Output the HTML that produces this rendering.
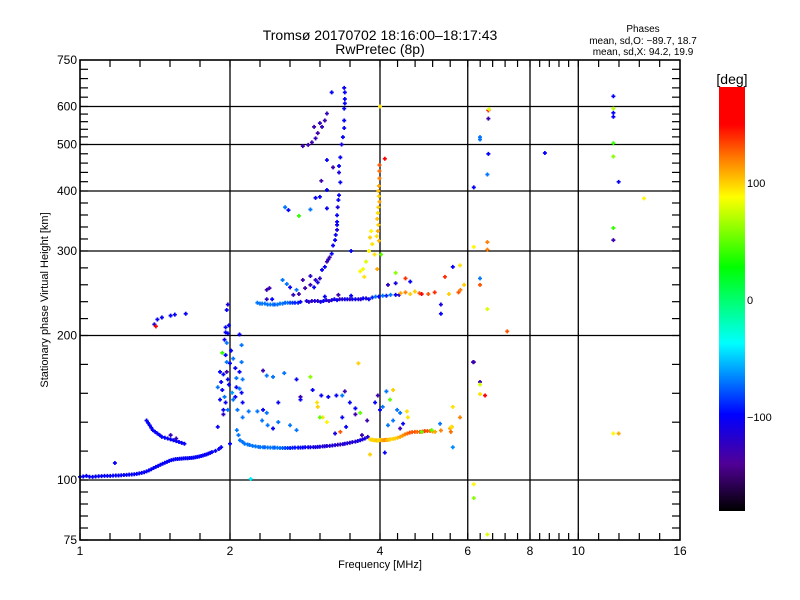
<!DOCTYPE html>
<html><head><meta charset="utf-8"><style>
body{margin:0;background:#fff}
svg{display:block}
text{font-family:"Liberation Sans",sans-serif;fill:#000}
</style></head><body>
<svg id="chart" width="800" height="600" viewBox="0 0 800 600" xmlns="http://www.w3.org/2000/svg">
<rect x="0" y="0" width="800" height="600" fill="#fff"/>
<text x="380" y="40" font-size="14" text-anchor="middle">Tromsø 20170702 18:16:00–18:17:43</text>
<text x="380" y="54" font-size="14" text-anchor="middle">RwPretec (8p)</text>
<text x="643" y="32" font-size="10" text-anchor="middle">Phases</text>
<text x="643" y="44" font-size="10" text-anchor="middle">mean, sd,O: −89.7, 18.7</text>
<text x="643" y="55" font-size="10" text-anchor="middle">mean, sd,X:  94.2, 19.9</text>
<text x="380" y="568" font-size="11" text-anchor="middle">Frequency [MHz]</text>
<text transform="translate(48,300) rotate(-90)" font-size="11" text-anchor="middle">Stationary phase Virtual Height [km]</text>
<g id="grid"></g>
<g id="marks"></g>
<g id="axes"></g>
<g id="cbar"></g>
</svg>
<script>
// ---- data ----
const xTickLabels = [1, 2, 4, 6, 8, 10, 16];
const yTickLabels = [75, 100, 200, 300, 400, 500, 600, 750];
const hGrid = [100, 200, 300, 400, 500, 600];
const vGrid = [2, 4, 6, 8, 10];
const cbarLabels = [100, 0, -100];

// [frequency MHz, height km, phase deg]
const traceE = [[1.0,101.5,-100],[1.015,101.7,-100],[1.03,102,-100],[1.045,101.6,-100],[1.06,101.5,-100],[1.075,101.7,-100],[1.09,101.8,-100],[1.105,101.9,-100],[1.12,102,-100],[1.135,102,-100],[1.15,102,-100],[1.165,102.1,-100],[1.18,102.2,-100],[1.195,102.2,-100],[1.21,102.3,-100],[1.225,102.4,-100],[1.24,102.5,-100],[1.255,102.6,-100],[1.27,102.7,-100],[1.285,102.8,-100],[1.30,103,-100],[1.315,103.2,-100],[1.33,103.5,-100],[1.345,103.8,-100],[1.36,104.2,-100],[1.375,104.7,-100],[1.39,105.3,-100],[1.405,105.9,-100],[1.42,106.5,-100],[1.435,107,-100],[1.45,107.6,-100],[1.465,108.1,-100],[1.48,108.6,-100],[1.495,109.1,-100],[1.51,109.6,-100],[1.525,110,-100],[1.54,110.3,-100],[1.555,110.5,-100],[1.57,110.6,-100],[1.585,110.7,-100],[1.60,110.8,-100],[1.615,110.9,-100],[1.63,111,-100],[1.645,111,-100],[1.66,111.1,-100],[1.675,111.2,-100],[1.69,111.3,-100],[1.705,111.5,-100],[1.72,111.7,-100],[1.735,111.9,-100],[1.75,112.2,-100],[1.765,112.5,-100],[1.78,112.8,-100],[1.795,113.1,-100],[1.81,113.5,-105],[1.825,113.9,-100],[1.84,114.3,-100],[1.87,115,-100],[1.90,116,-100],[1.92,117,-100],[1.175,108.5,-100]];
const traceEBranch = [[1.36,133,-100],[1.37,131.5,-100],[1.38,130,-100],[1.39,128.5,-100],[1.40,127,-100],[1.415,126,-100],[1.43,125,-100],[1.445,124,-100],[1.46,123,-100],[1.48,122.5,-100],[1.50,122,-100],[1.52,121.5,-100],[1.54,121,-100],[1.56,120.5,-100],[1.58,120,-100],[1.60,119.5,-100],[1.62,119,-100],[1.52,124,-125],[1.56,122,-125]];
const traceLowSpread = [[1.41,211,-110],[1.42,209,170],[1.43,216,-100],[1.46,218,-100],[1.52,220,-100],[1.55,221,-100],[1.63,222,-100]];
const traceF1 = [[2.064,127,-70],[2.08,124,-70],[2.094,121,-70],[2.12,120,-70],[2.14,119,-70],[2.17,118.6,-70],[2.19,118.3,-70],[2.22,117.8,-70],[2.25,117.5,-70],[2.28,117.2,-70],[2.3,117.1,-70],[2.33,117,-70],[2.35,117,-75],[2.38,116.9,-70],[2.41,116.8,-70],[2.44,116.8,-70],[2.46,116.8,-75],[2.49,116.7,-70],[2.52,116.6,-70],[2.55,116.6,-75],[2.58,116.6,-80],[2.61,116.6,-85],[2.64,116.6,-90],[2.67,116.7,-90],[2.7,116.8,-95],[2.74,116.8,-95],[2.77,116.8,-95],[2.80,116.9,-100],[2.83,117,-100],[2.87,117,-105],[2.9,117,-105],[2.94,117.1,-110],[2.97,117.1,-110],[3.0,117.2,-110],[3.03,117.3,-110],[3.07,117.5,-115],[3.1,117.6,-115],[3.13,117.7,-115],[3.17,117.8,-115],[3.21,118,-115],[3.25,118.2,-115],[3.29,118.4,-120],[3.33,118.6,-120],[3.37,118.8,-115],[3.4,119,-115],[3.44,119.3,-115],[3.48,119.6,-115],[3.52,119.9,-115],[3.57,120.2,-115],[3.61,120.6,-110],[3.65,121,-110],[3.69,121.5,-110],[3.73,122,-110],[3.78,123,-120]];
const traceF1X = [[3.82,121.5,95],[3.85,121.3,100],[3.87,121.2,100],[3.89,121,95],[3.91,121,100],[3.94,120.9,105],[3.96,120.8,100],[3.98,121,95],[4.0,121.2,100],[4.03,121.1,105],[4.05,121,110],[4.08,121.1,115],[4.1,121.2,115],[4.13,121.2,110],[4.15,121.2,105],[4.18,121.4,100],[4.2,121.6,100],[4.25,121.8,100],[4.29,122,100],[4.34,122.5,105],[4.39,123,110],[4.44,123.7,115],[4.49,124.5,120],[4.54,125,125],[4.59,125.5,130],[4.64,125.8,130],[4.7,126,130],[4.75,126,125],[4.81,126,130],[4.87,126.2,130],[4.92,126.4,135],[4.98,126.5,130],[5.04,126.5,125],[5.1,126.2,115],[5.16,126,110],[5.3,126.8,120],[5.53,128,110],[5.58,129,100],[5.55,126,125]];
const traceCusp = [[1.96,208,-100],[1.96,203,-100],[1.98,202,-100],[1.95,196,-100],[1.97,193,-70],[1.93,184,40],[1.96,182,-100],[1.97,176,-70],[2.0,175,-100],[1.91,168,-100],[1.94,166,-100],[1.97,168,-130],[1.98,162,-100],[1.89,156,-70],[1.93,154,-100],[1.95,149,-70],[1.91,147,-100],[1.94,140,-100],[1.94,137,-120],[1.98,140,-70],[1.89,129,-100],[2.0,119,-100],[2.03,179,-70],[2.05,171,-100],[2.06,163,-70],[2.06,156,-100],[2.05,149,-100],[2.03,147,-70],[2.09,168,-100],[2.09,155,-70],[2.11,152,-100],[2.12,145,-100],[2.12,135,-70],[2.11,191,-70],[2.09,201,-100],[2.11,176,-70],[2.12,162,-70],[1.97,226,-100],[1.98,232,-110],[1.99,210,-100],[2.01,186,-100],[1.99,158,-100],[2.02,152,-60],[2.07,140,-70],[1.96,145,-100],[1.92,160,-100]];
const traceF1Spread = [[2.18,139,-70],[2.27,139,-70],[2.33,140,-100],[2.37,138,-70],[2.32,133,-70],[2.38,130,-70],[2.44,128,-100],[2.5,132,-70],[2.64,130,-70],[2.72,127,-70],[2.33,169,-130],[2.37,165,-70],[2.44,164,-70],[2.57,167,-70],[2.72,162,-100],[2.9,164,60],[2.77,149,-130],[2.77,147,-100],[2.93,154,-100],[2.99,145,95],[3.0,142,100],[3.07,135,95],[3.03,135,50],[3.13,132,90],[3.15,149,-100],[3.27,150,-100],[3.36,150,-70],[3.4,153,-130],[3.48,145,-100],[3.57,141,-100],[3.57,137,-130],[3.36,135,-100],[3.33,126,130],[3.25,125,-110],[3.42,129,-100],[3.65,138,50],[3.77,133,-130],[3.68,124,-130],[3.91,145,-100],[3.96,150,-130],[4.0,140,-100],[4.05,142,-70],[4.12,153,-70],[4.19,147,50],[4.25,154,100],[4.33,140,-70],[4.39,138,-70],[4.25,133,-70],[4.53,139,95],[4.55,135,95],[4.39,128,-130],[4.09,114,-100],[3.82,113,100],[5.56,129,95],[5.6,142,95],[5.79,135,120],[5.6,117,-65],[5.28,131,-70],[4.85,126,50],[5.08,127,50],[6.15,176,-130],[2.2,100.5,-40],[3.62,175,100],[3.05,150,-100],[2.5,145,-100],[4.15,130,-70],[4.45,131,-100]];
const traceF2Base = [[2.27,234,-70],[2.297,233,-70],[2.32,233,-70],[2.35,233,-70],[2.38,232,-70],[2.41,232,-70],[2.44,232,-70],[2.46,232,-75],[2.49,232,-70],[2.52,233,-70],[2.55,233,-70],[2.58,234,-75],[2.61,234,-70],[2.64,234,-80],[2.67,234,-85],[2.70,234,-90],[2.74,234,-90],[2.77,235,-100],[2.85,236,-110],[2.88,235,-120],[2.92,236,-120],[2.96,236,-110],[3.0,236,-120],[3.04,235,-110],[3.08,236,-100],[3.12,237,-110],[3.16,236,-125],[3.2,237,-110],[3.24,238,-110],[3.28,237,-100],[3.32,238,-125],[3.36,238,-110],[3.4,238,-115],[3.44,238,-100],[3.48,238,-125],[3.52,238,-110],[3.57,238,-100],[3.62,238,-110],[3.66,238,-120],[3.7,239,-100],[3.75,239,-110],[3.8,238,-100],[3.86,240,-90],[3.92,241,-70],[3.98,241,-100],[4.05,242,-70],[4.12,242,-90],[4.2,243,-70],[4.3,243,-100],[4.37,243,-120],[2.37,238,-120],[2.43,238,-100],[3.1,241,-100],[3.3,243,-130],[3.5,242,-100]];
const traceF2Rise = [[2.55,261,-70],[2.60,256,-70],[2.64,252,-100],[2.72,249,-70],[2.83,251,-130],[2.9,255,-125],[2.97,261,-120],[3.03,263,-120],[3.06,274,-100],[3.1,278,-100],[3.13,285,-130],[3.15,288,-120],[3.17,291,-130],[2.37,249,-130],[2.40,251,-130],[2.8,261,-130],[2.9,266,-120],[2.68,243,-125],[2.75,244,-130],[2.95,252,-100],[3.0,258,-110]];
const traceF2Column = [[3.2,296,-100],[3.22,308,-100],[3.25,316,-100],[3.26,324,-100],[3.28,332,-110],[3.28,340,-100],[3.28,345,-100],[3.28,356,-100],[3.29,370,-110],[3.3,383,-100],[3.31,392,-100],[3.33,417,-100],[3.31,437,-110],[3.31,451,-100],[3.33,470,-100],[3.39,541,-100],[3.39,561,-100],[3.39,594,-100],[3.4,609,-100],[3.4,622,-100],[3.4,642,-100],[3.39,656,-100],[3.2,642,-100],[3.35,500,-110],[3.37,518,-100]];
const traceF2Upper = [[2.8,496,-130],[2.87,499,-130],[2.92,505,-130],[2.97,515,-125],[3.0,528,-130],[3.06,544,-125],[3.1,561,-130],[3.13,580,-125],[2.95,544,-130],[3.03,554,-125],[2.97,387,-100],[3.03,389,-100],[3.13,402,-100],[2.58,370,-70],[2.62,365,-100],[2.9,366,-70],[3.13,368,-100],[3.22,448,-130],[3.13,464,-100],[3.05,420,-130],[2.75,355,40],[3.5,300,-100]];
const traceXColumn = [[3.99,453,130],[3.99,440,125],[3.99,425,120],[3.98,410,110],[3.97,400,105],[3.98,390,100],[3.99,380,110],[3.97,370,100],[3.96,360,95],[3.95,350,105],[3.97,340,100],[3.96,330,110],[3.94,322,95],[3.98,315,105],[3.84,330,90],[3.82,320,100],[3.86,310,95],[3.8,300,90],[3.75,285,80],[3.7,275,85],[3.65,272,90],[3.72,265,95],[4.09,467,150],[4.0,600,95],[4.02,295,50],[3.9,295,95],[3.95,275,110]];
const traceXRight = [[4.4,245,110],[4.5,246,120],[4.6,244,100],[4.8,245,130],[4.85,244,150],[5.0,244,130],[5.15,246,140],[5.5,244,100],[5.75,246,130],[5.8,249,120],[5.9,255,100],[5.4,265,140],[4.5,263,140],[4.3,270,60],[4.15,255,-120],[4.3,257,-110],[4.6,259,-100],[5.6,278,-100],[5.3,222,-100],[5.3,232,-110],[5.79,280,95],[4.7,247,100]];
const traceHighFreq = [[6.6,589,150],[6.62,592,80],[6.6,566,-130],[6.35,518,-70],[6.35,512,-70],[6.6,478,-100],[6.57,433,-70],[6.17,407,-100],[6.57,313,120],[6.17,306,90],[6.57,302,120],[6.35,263,-70],[8.57,480,-100],[11.76,630,-100],[11.76,594,70],[11.76,582,-100],[11.76,571,-100],[11.76,503,40],[11.76,472,60],[12.05,418,-100],[13.55,386,90],[11.76,335,40],[11.76,316,-130],[6.35,255,130],[6.57,227,80],[7.2,204,130],[6.17,176,-130],[6.35,160,-130],[6.35,158,80],[6.35,151,95],[6.5,150,160],[11.76,125,90],[12.05,125,110],[6.17,98,90],[6.17,91.7,60],[6.57,77,80]];

// ---- scales ----
const X0 = 80, X1 = 680, Y0 = 60, Y1 = 540;
function xS(f){ return X0 + 150*Math.log2(f); }
function yS(h){ return 480 - 144.5*Math.log2(h/100); }
const CB_TOP = 87, CB_BOT = 511, CB_ZERO = 300, CB_PX = 1.17;
function cbY(p){ return CB_ZERO - CB_PX*p; }
const cStops = [[180,[255,0,0]],[150,[255,0,0]],[120,[255,128,0]],[88,[255,255,0]],[28,[0,255,0]],[-37,[0,255,255]],[-98,[0,0,255]],[-140,[80,0,150]],[-180,[0,0,0]]];
function phaseColor(p){
  p = Math.max(-180, Math.min(180, p));
  for (let i=0;i<cStops.length-1;i++){
    const a=cStops[i], b=cStops[i+1];
    if (p<=a[0] && p>=b[0]){
      const t=(a[0]-p)/(a[0]-b[0]);
      const c=a[1].map((v,k)=>Math.round(v+(b[1][k]-v)*t));
      return 'rgb('+c.join(',')+')';
    }
  }
  return '#000';
}
const NS='http://www.w3.org/2000/svg';
function mk(tag, attrs, parent){
  const e=document.createElementNS(NS,tag);
  for (const k in attrs) e.setAttribute(k, attrs[k]);
  parent.appendChild(e); return e;
}

// ---- grid ----
const grid=document.getElementById('grid');
hGrid.forEach(h=>{
  const l=mk('line',{x1:X0,x2:X1,y1:yS(h),y2:yS(h),stroke:'#000','stroke-width':1.3},grid);
  
  
});
vGrid.forEach(f=>{
  const l=mk('line',{x1:xS(f),x2:xS(f),y1:Y0,y2:Y1,stroke:'#000','stroke-width':1.3},grid);
  
  
});

// ---- marks ----
const marks=document.getElementById('marks');
const traces={'trace-e':traceE,'trace-e-branch':traceEBranch,'trace-low-spread':traceLowSpread,'trace-f1':traceF1,'trace-f1-x':traceF1X,'trace-cusp':traceCusp,'trace-f1-spread':traceF1Spread,'trace-f2-base':traceF2Base,'trace-f2-rise':traceF2Rise,'trace-f2-column':traceF2Column,'trace-f2-upper':traceF2Upper,'trace-x-column':traceXColumn,'trace-x-right':traceXRight,'trace-high-freq':traceHighFreq};
for (const name in traces){
  const g=mk('g',{},marks);
  
  
  traces[name].forEach(d=>{
    const x=xS(d[0]), y=yS(d[1]);
    const p=mk('path',{d:'M'+(x-2)+' '+y+'h4M'+x+' '+(y-2)+'v4',stroke:phaseColor(d[2]),'stroke-width':1.7,fill:'none'},g);
    
    
  });
}

// ---- axes ----
const axes=document.getElementById('axes');
const frame=mk('rect',{x:X0,y:Y0,width:X1-X0,height:Y1-Y0,fill:'none',stroke:'#000','stroke-width':1.6},axes);


function yPos(v){ return v===75 ? Y1 : (v===750 ? Y0 : yS(v)); }
for (let i=0;i<yTickLabels.length;i++){
  const v=yTickLabels[i], y=yPos(v);
  const t=mk('text',{x:X0-3,y:y+4,'font-size':12,'text-anchor':'end'},axes);
  t.textContent=v;
  
  
  if (i<yTickLabels.length-1){
    const y2=yPos(yTickLabels[i+1]);
    for (let k=0;k<5;k++){
      const yy=y+(y2-y)*k/5;
      const a=mk('line',{x1:X0,x2:X0+8,y1:yy,y2:yy,stroke:'#000','stroke-width':1.2},axes);
      
      
      const b=mk('line',{x1:X1-8,x2:X1,y1:yy,y2:yy,stroke:'#000','stroke-width':1.2},axes);
      
      
    }
  }
}
for (let i=0;i<xTickLabels.length;i++){
  const v=xTickLabels[i], x=xS(v);
  const t=mk('text',{x:x,y:Y1+15,'font-size':12,'text-anchor':'middle'},axes);
  t.textContent=v;
  
  
  if (i<xTickLabels.length-1){
    const x2=xS(xTickLabels[i+1]);
    for (let k=0;k<5;k++){
      const xx=x+(x2-x)*k/5;
      const a=mk('line',{x1:xx,x2:xx,y1:Y1,y2:Y1-7,stroke:'#000','stroke-width':1.2},axes);
      
      
      const b=mk('line',{x1:xx,x2:xx,y1:Y0,y2:Y0+7,stroke:'#000','stroke-width':1.2},axes);
      
      
    }
  }
}

// ---- colorbar ----
const cb=document.getElementById('cbar');
const defs=mk('defs',{},cb);
const lg=mk('linearGradient',{id:'cbgrad',x1:0,y1:0,x2:0,y2:1},defs);
cStops.forEach(s=>{
  mk('stop',{offset:((cbY(s[0])-CB_TOP)/(CB_BOT-CB_TOP)).toFixed(4),'stop-color':phaseColor(s[0])},lg);
});
const cr=mk('rect',{x:719,y:CB_TOP,width:26,height:CB_BOT-CB_TOP,fill:'url(#cbgrad)'},cb);


const cbt=mk('text',{x:732,y:84,'font-size':14,'text-anchor':'middle'},cb);
cbt.textContent='[deg]';


cbarLabels.forEach(v=>{
  const t=mk('text',{x:747,y:cbY(v)+4,'font-size':11},cb);
  t.textContent=v<0?'−'+Math.abs(v):String(v);
  
  
});
</script>
</body></html>
